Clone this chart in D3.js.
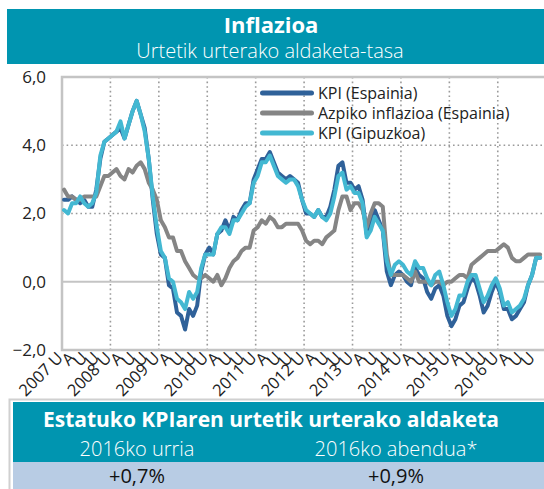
<!DOCTYPE html>
<html>
<head>
<meta charset="utf-8">
<script src="https://cdn.jsdelivr.net/npm/d3@7"></script>
<style>
  body { margin: 0; background: #fff; }
  text { font-family: "Open Sans", sans-serif; }
</style>
</head>
<body>
<div id="chart"></div>
<script>
// urteak eta hilabeteen hasierako letrak
const years = [2007, 2008, 2009, 2010, 2011, 2012, 2013, 2014, 2015, 2016];
const monthInitials = ["U", "O", "M", "A", "M", "E", "U", "A", "I", "U", "A", "A"];

// KPI (Espainia), urtetik urterako %
const kpiEspainia = [
  2.4, 2.4, 2.5, 2.4, 2.3, 2.4, 2.2, 2.2, 2.7, 3.6, 4.1, 4.2,
  4.3, 4.4, 4.5, 4.2, 4.6, 5.0, 5.3, 4.9, 4.5, 3.6, 2.4, 1.4,
  0.8, 0.7, -0.1, -0.2, -0.9, -1.0, -1.4, -0.8, -1.0, -0.7, 0.3, 0.8,
  1.0, 0.8, 1.4, 1.5, 1.8, 1.5, 1.9, 1.8, 2.1, 2.3, 2.3, 3.0,
  3.3, 3.6, 3.6, 3.8, 3.5, 3.2, 3.1, 3.0, 3.1, 3.0, 2.9, 2.4,
  2.0, 2.0, 1.9, 2.1, 1.9, 1.9, 2.2, 2.7, 3.4, 3.5, 2.9, 2.9,
  2.7, 2.8, 2.4, 1.4, 1.7, 2.1, 1.8, 1.5, 0.3, -0.1, 0.2, 0.3,
  0.2, 0.0, -0.1, 0.4, 0.2, 0.1, -0.3, -0.5, -0.2, -0.1, -0.4, -1.0,
  -1.3, -1.1, -0.7, -0.6, -0.2, 0.1, 0.0, -0.4, -0.9, -0.7, -0.3, 0.0,
  -0.3, -0.8, -0.8, -1.1, -1.0, -0.8, -0.6, -0.1, 0.2, 0.7, 0.7
];

// Azpiko inflazioa (Espainia)
const azpikoEspainia = [
  2.7, 2.5, 2.5, 2.4, 2.4, 2.5, 2.5, 2.5, 2.5, 2.8, 3.1, 3.1,
  3.2, 3.3, 3.1, 3.0, 3.3, 3.2, 3.4, 3.5, 3.3, 2.9, 2.7, 2.4,
  1.8, 1.6, 1.3, 1.3, 0.9, 0.9, 0.6, 0.4, 0.2, 0.1, 0.1, 0.2,
  0.1, 0.0, 0.2, -0.1, 0.1, 0.4, 0.6, 0.7, 0.9, 1.0, 1.0, 1.5,
  1.6, 1.8, 1.7, 1.9, 1.8, 1.6, 1.6, 1.7, 1.7, 1.7, 1.7, 1.5,
  1.2, 1.1, 1.2, 1.2, 1.1, 1.3, 1.4, 1.5, 2.1, 2.5, 2.5, 2.1,
  2.3, 2.3, 2.1, 1.6, 2.0, 2.3, 2.3, 2.2, 0.8, 0.2, 0.2, 0.2,
  0.2, 0.1, 0.0, 0.3, 0.0, 0.0, 0.0, -0.1, 0.0, 0.0, -0.1, 0.0,
  0.0, 0.1, 0.2, 0.2, 0.1, 0.5, 0.6, 0.7, 0.8, 0.9, 0.9, 0.9,
  1.0, 1.1, 1.0, 0.7, 0.6, 0.6, 0.7, 0.8, 0.8, 0.8, 0.8
];

// KPI (Gipuzkoa)
const kpiGipuzkoa = [
  2.1, 2.0, 2.3, 2.3, 2.5, 2.3, 2.2, 2.3, 2.6, 3.7, 4.1, 4.2,
  4.3, 4.4, 4.7, 4.2, 4.6, 5.0, 5.3, 4.9, 4.4, 3.6, 2.5, 1.6,
  0.9, 0.7, 0.1, 0.0, -0.5, -0.6, -0.8, -0.3, -0.5, -0.3, 0.4, 0.8,
  0.8, 0.8, 1.4, 1.6, 1.6, 1.4, 1.8, 1.8, 2.0, 2.2, 2.3, 2.9,
  3.1, 3.5, 3.5, 3.7, 3.4, 3.1, 3.0, 2.9, 3.0, 3.0, 2.8, 2.4,
  2.1, 2.0, 1.9, 2.1, 1.9, 1.8, 2.0, 2.5, 3.1, 3.2, 2.7, 2.8,
  2.6, 2.6, 2.3, 1.3, 1.5, 1.9, 1.7, 1.5, 0.6, 0.2, 0.5, 0.6,
  0.5, 0.3, 0.2, 0.6, 0.4, 0.4, 0.1, -0.1, 0.2, 0.3, -0.1, -0.6,
  -1.0, -0.8, -0.4, -0.4, 0.0, 0.2, 0.2, -0.2, -0.6, -0.4, -0.1, 0.1,
  -0.2, -0.7, -0.6, -0.9, -0.8, -0.7, -0.5, -0.1, 0.2, 0.7, 0.7
];

const seriesNames = ["KPI (Espainia)", "Azpiko inflazioa (Espainia)", "KPI (Gipuzkoa)"];
const seriesColors = ["#2f6199", "#858585", "#43b8d2"];
const yTicks = [-2, 0, 2, 4, 6];

const tableTitle = "Estatuko KPIaren urtetik urterako aldaketa";
const tableHeads = ["2016ko urria", "2016ko abendua*"];
const tableValues = ["+0,7%", "+0,9%"];

const W = 544, H = 489;
const teal = "#0095b0";

var svg = d3.select("#chart").append("svg")
  .attr("width", W).attr("height", H);

// goiburua
svg.append("rect").attr("x", 7).attr("y", 9).attr("width", W - 7).attr("height", 55)
  .attr("fill", teal);
svg.append("text").attr("x", 271).attr("y", 33).attr("text-anchor", "middle")
  .style("font-size", "22px").style("font-weight", "bold").style("fill", "#fff")
  .text("Inflazioa");
svg.append("text").attr("x", 270).attr("y", 58).attr("text-anchor", "middle")
  .style("font-size", "20px").style("font-weight", "300").style("fill", "#fff")
  .text("Urtetik urterako aldaketa-tasa");

// grafikoa
var months = d3.range(years.length * 12);
var x = d3.scaleBand().domain(months).range([62, 62 + 120 * 4.035]);
var y = d3.scaleLinear().domain([-2, 6]).range([350, 77]);
var cx = function (i) { return x(i) + x.bandwidth() / 2; };

var grid = svg.append("g");
grid.selectAll(".hg").data([2, 4]).enter().append("line")
  .attr("x1", 62).attr("x2", W).attr("y1", d => y(d)).attr("y2", d => y(d))
  .style("stroke", "#9a9a9a").style("stroke-width", 1.6).style("stroke-dasharray", "1.6,3");
grid.selectAll(".vg").data(years.slice(1)).enter().append("line")
  .attr("x1", (d, k) => x((k + 1) * 12)).attr("x2", (d, k) => x((k + 1) * 12))
  .attr("y1", 77).attr("y2", 350)
  .style("stroke", "#9a9a9a").style("stroke-width", 1.6).style("stroke-dasharray", "1.6,3");

// ardatzak eta markoa
svg.append("line").attr("x1", 62).attr("x2", W).attr("y1", y(0)).attr("y2", y(0))
  .style("stroke", "#c4c4c4").style("stroke-width", 2);
svg.append("path")
  .attr("d", "M" + W + "," + y(6) + "H62V" + y(-2) + "H" + W)
  .style("fill", "none").style("stroke", "#c4c4c4").style("stroke-width", 2.5);

var yAxis = svg.append("g").attr("transform", "translate(62,0)")
  .call(d3.axisLeft(y).tickValues(yTicks).tickSize(0).tickPadding(16)
    .tickFormat(d => d3.format(".1f")(d).replace(".", ",")));
yAxis.select(".domain").remove();
yAxis.selectAll("text").style("font-size", "17px").style("fill", "#222")
  .style("font-family", "'Open Sans', sans-serif");

var xTicks = months.filter(i => i % 3 == 0);
var xAxis = svg.append("g").attr("transform", "translate(0," + y(-2) + ")")
  .call(d3.axisBottom(x).tickValues(xTicks).tickSize(0).tickPadding(0)
    .tickFormat(function (i) {
      var m = monthInitials[i % 12];
      return i % 12 == 0 ? years[i / 12] + " " + m : m;
    }));
xAxis.select(".domain").remove();
xAxis.selectAll("text")
  .attr("y", 0).attr("dy", 0)
  .attr("transform", "translate(0,9) rotate(-45)")
  .style("text-anchor", "end")
  .style("font-size", "16.5px").style("fill", "#222")
  .style("font-family", "'Open Sans', sans-serif");

// lerroak
var line = d3.line()
  .x((d, i) => cx(i))
  .y(d => y(d));
[kpiEspainia, azpikoEspainia, kpiGipuzkoa].forEach(function (s, k) {
  svg.append("path").datum(s)
    .attr("d", line)
    .style("fill", "none")
    .style("stroke", seriesColors[k])
    .style("stroke-width", 4)
    .style("stroke-linejoin", "round")
    .style("stroke-linecap", "round");
});

// legenda
var legend = svg.append("g");
seriesNames.forEach(function (n, k) {
  var ly = 93 + k * 20;
  legend.append("rect").attr("x", 260).attr("y", ly - 2.5).attr("width", 54).attr("height", 5)
    .attr("rx", 2.5).attr("fill", seriesColors[k]);
  legend.append("text").attr("x", 318).attr("y", ly).attr("dy", "0.35em")
    .style("font-size", "16px").style("fill", "#222").text(n);
});

// taula
svg.append("rect").attr("x", 9.5).attr("y", 399.5).attr("width", W).attr("height", 100)
  .attr("fill", "none").attr("stroke", "#d0d0d0").attr("stroke-width", 2);
svg.append("rect").attr("x", 13).attr("y", 402).attr("width", W - 13).attr("height", 60)
  .attr("fill", teal);
svg.append("rect").attr("x", 13).attr("y", 462).attr("width", W - 13).attr("height", 30)
  .attr("fill", "#b8cce4");
svg.append("text").attr("x", 271).attr("y", 427).attr("text-anchor", "middle")
  .style("font-size", "21px").style("font-weight", "bold").style("fill", "#fff")
  .text(tableTitle);
var colX = [137, 396];
tableHeads.forEach(function (t, k) {
  svg.append("text").attr("x", colX[k]).attr("y", 456).attr("text-anchor", "middle")
    .style("font-size", "20px").style("font-weight", "300").style("fill", "#fff").text(t);
  svg.append("text").attr("x", colX[k]).attr("y", 483).attr("text-anchor", "middle")
    .style("font-size", "20px").style("fill", "#111").text(tableValues[k]);
});
</script>
</body>
</html>
